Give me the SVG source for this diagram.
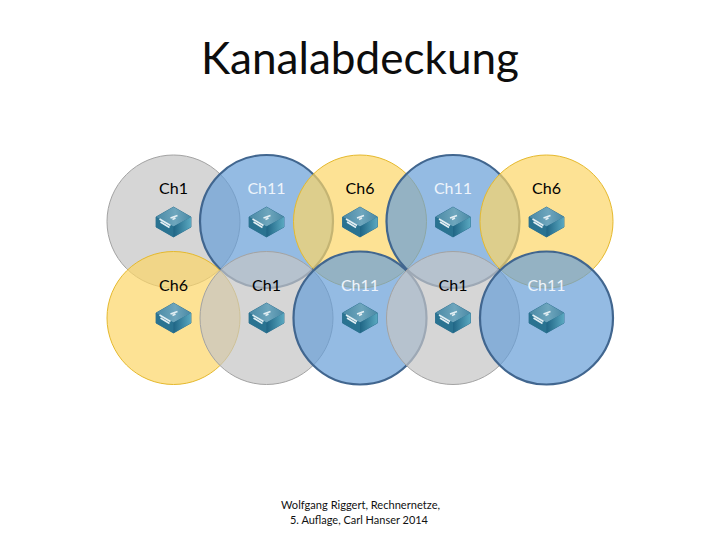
<svg xmlns="http://www.w3.org/2000/svg" xmlns:xlink="http://www.w3.org/1999/xlink" width="720" height="540" viewBox="0 0 720 540">
<style>
text{font-family:"Lato","Noto Sans",sans-serif;text-anchor:middle}
.title{font-size:44px;fill:#0d0d0d}
.ch{font-size:16px;fill:#000}
.w{fill:#eef4fb}
.foot{font-size:12px;fill:#111}
.gray{fill:#c4c4c4;fill-opacity:.7;stroke:#a3a3a3;stroke-width:1}
.blue{fill:#669ed7;fill-opacity:.7;stroke:#41668f;stroke-width:2.2}
.yellow{fill:#fcd666;fill-opacity:.7;stroke:#e5b92e;stroke-width:1}
</style>
<defs>
<linearGradient id="top" x1="0" y1="0" x2="1" y2="0"><stop offset="0" stop-color="#4a89a5"/><stop offset=".55" stop-color="#6ea6bd"/><stop offset="1" stop-color="#4a89a5"/></linearGradient>
<linearGradient id="side" x1="0" y1="0" x2="1" y2="0"><stop offset="0" stop-color="#1f6585"/><stop offset="1" stop-color="#5aa8c0"/></linearGradient>
<g id="sw">
<path d="M0-15 17.500-5 17.500 5 0 15-17.500 5-17.500-5Z" fill="#2c6f8f" stroke="#2c6f8f" stroke-width=".8" stroke-linejoin="round"/>
<path d="M0-15 17.500-5 0 4.500-17.500-5Z" fill="url(#top)"/>
<path d="M-17.500-5 0 4.500 0 15-17.500 5Z" fill="#2a7391"/>
<path d="M17.500-5 0 4.500 0 15 17.500 5Z" fill="url(#side)"/>
<path d="M-3-4 4-6.500M-1-2.500 2-4M-14-3-3 3.500M-13 0-4 5.500" stroke="#e3eff4" stroke-width="1.600" fill="none"/>
</g>
</defs>
<text class="title" x="360" y="74" textLength="318" lengthAdjust="spacingAndGlyphs">Kanalabdeckung</text>
<g id="cells-row1">
<circle id="c1" class="gray" cx="173.500" cy="221.500" r="66.500"/>
<circle id="c2" class="blue" cx="266.500" cy="221.500" r="66.500"/>
<circle id="c3" class="yellow" cx="360" cy="221.500" r="66.500"/>
<circle id="c4" class="blue" cx="453" cy="221.500" r="66.500"/>
<circle id="c5" class="yellow" cx="546.500" cy="221.500" r="66.500"/>
</g>
<g id="cells-row2">
<circle id="c6" class="yellow" cx="173.500" cy="318" r="66.500"/>
<circle id="c7" class="gray" cx="266.500" cy="318" r="66.500"/>
<circle id="c8" class="blue" cx="360" cy="318" r="66.500"/>
<circle id="c9" class="gray" cx="453" cy="318" r="66.500"/>
<circle id="c10" class="blue" cx="546.500" cy="318" r="66.500"/>
</g>
<g id="connectors"/>
<g id="n1"><use xlink:href="#sw" href="#sw" x="173.500" y="222"/><text class="ch" x="173.500" y="194">Ch1</text></g>
<g id="n2"><use xlink:href="#sw" href="#sw" x="266.500" y="222"/><text class="ch w" x="266.500" y="194">Ch11</text></g>
<g id="n3"><use xlink:href="#sw" href="#sw" x="360" y="222"/><text class="ch" x="360" y="194">Ch6</text></g>
<g id="n4"><use xlink:href="#sw" href="#sw" x="453" y="222"/><text class="ch w" x="453" y="194">Ch11</text></g>
<g id="n5"><use xlink:href="#sw" href="#sw" x="546.500" y="222"/><text class="ch" x="546.500" y="194">Ch6</text></g>
<g id="n6"><use xlink:href="#sw" href="#sw" x="173.500" y="318"/><text class="ch" x="173.500" y="291">Ch6</text></g>
<g id="n7"><use xlink:href="#sw" href="#sw" x="266.500" y="318"/><text class="ch" x="266.500" y="291">Ch1</text></g>
<g id="n8"><use xlink:href="#sw" href="#sw" x="360" y="318"/><text class="ch w" x="360" y="291">Ch11</text></g>
<g id="n9"><use xlink:href="#sw" href="#sw" x="453" y="318"/><text class="ch" x="453" y="291">Ch1</text></g>
<g id="n10"><use xlink:href="#sw" href="#sw" x="546.500" y="318"/><text class="ch w" x="546.500" y="291">Ch11</text></g>
<text class="foot" x="360.500" y="509" textLength="159" lengthAdjust="spacingAndGlyphs">Wolfgang Riggert, Rechnernetze,</text>
<text class="foot" x="359" y="524" textLength="138" lengthAdjust="spacingAndGlyphs">5. Auflage, Carl Hanser 2014</text>
</svg>
